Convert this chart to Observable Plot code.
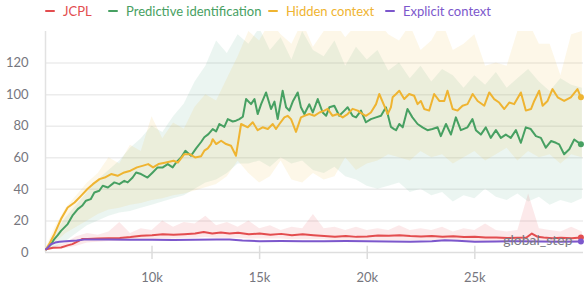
<!DOCTYPE html>
<html><head><meta charset="utf-8">
<script src="https://cdn.jsdelivr.net/npm/d3@7"></script>
<script src="https://cdn.jsdelivr.net/npm/@observablehq/plot@0.6"></script>
<style>
body{margin:0;background:#fff;}
#wrap{position:relative;width:587px;height:286px;font-family:Lato,"Open Sans",sans-serif;}
.leg{position:absolute;top:3px;height:16px;font-size:13px;display:flex;align-items:center;white-space:nowrap;}
.leg .d{display:inline-block;width:10px;height:2.5px;margin-right:8px;border-radius:1px;}
#chart{position:absolute;left:0;top:0;}
</style></head><body>
<div id="wrap"><div id="chart"></div></div>
<script>
// ---- series names / colours ----
const seriesNames = ["JCPL", "Predictive identification", "Hidden context", "Explicit context"];
const seriesColors = ["#e34d4f", "#47a062", "#efb431", "#7c57cc"];
const legendLeft = [45, 108, 268, 385];

// ---- axis ticks ----
const yTicks = [0, 20, 40, 60, 80, 100, 120];
const xTicks = [10, 15, 20, 25]; // thousands of steps

// ---- Predictive identification (green) ----
const greenSteps = [5.08,5.3,5.46,5.62,5.77,6.08,6.3,6.55,6.75,6.93,7.15,7.32,7.55,7.71,7.95,8.25,8.48,8.71,8.87,9.1,9.26,9.49,9.79,10.03,10.26,10.5,10.73,10.96,11.12,11.35,11.55,11.81,12.05,12.28,12.43,12.62,12.82,12.98,13.13,13.36,13.52,13.75,13.9,14.06,14.22,14.37,14.6,14.76,14.91,15.07,15.3,15.53,15.69,15.84,16.07,16.23,16.38,16.54,16.77,16.92,17.08,17.31,17.47,17.7,17.93,18.09,18.24,18.47,18.7,18.94,19.09,19.32,19.48,19.71,19.94,20.17,20.41,20.64,20.87,21.1,21.25,21.34,21.49,21.65,21.87,22.1,22.34,22.57,22.8,23.03,23.27,23.42,23.66,23.89,24.12,24.35,24.66,24.89,25.05,25.28,25.51,25.74,25.98,26.21,26.44,26.67,26.91,27.14,27.37,27.6,27.84,28.07,28.3,28.54,28.77,28.92,29.15,29.39,29.62,29.93];
const greenValues = [2,5,8.5,11,13.7,18,23.3,27.5,29.6,32.8,33.8,38,39.1,42.3,41.2,44.4,43.3,45.4,44.4,47.5,50.7,49.7,47.5,50.7,53.9,53.9,56,53.9,57,60.2,64.4,61.3,66,70,73,75,78.2,76.7,81.4,79.6,84.5,83,83.5,84.5,86,97.2,94,97.2,87.7,94,101.4,90.9,95.6,84.5,102.5,92,89.9,95.6,101.4,92,87.7,93.9,88.7,97.2,88.7,86.6,92,93,86.6,89.9,92,86.6,85.6,89.9,82.5,84.5,85.6,86.6,92,79.6,78.2,77.5,81.4,79.3,90.9,85.6,81.4,79.3,77.5,78.2,79.3,73.7,81.4,74.7,85.6,77.5,79.3,84.5,77.5,74.7,79.3,72.6,77.5,72.6,74.7,72.6,77.5,69.5,79.3,78.2,73.7,72.6,66.4,70.6,69.5,68.5,62.2,65.4,71.6,68.5];

// ---- Hidden context (yellow) ----
const yellowSteps = [5.08,5.25,5.46,5.62,5.77,6.08,6.4,6.7,7.0,7.25,7.56,7.8,8.1,8.4,8.71,9.0,9.3,9.55,9.82,10.05,10.3,10.65,11.0,11.2,11.5,11.75,12.0,12.28,12.43,12.59,12.74,12.82,12.98,13.21,13.44,13.67,13.9,14.14,14.45,14.68,14.91,15.14,15.38,15.61,15.76,15.92,16.15,16.3,16.46,16.69,16.92,17.08,17.31,17.54,17.78,18.01,18.16,18.39,18.63,18.86,19.09,19.32,19.56,19.79,19.94,20.17,20.41,20.56,20.79,20.95,21.1,21.18,21.34,21.49,21.72,21.95,22.18,22.34,22.49,22.65,22.88,23.11,23.35,23.58,23.73,23.97,24.2,24.43,24.66,24.9,25.13,25.44,25.67,25.9,26.13,26.37,26.6,26.83,27.14,27.37,27.61,27.76,27.99,28.15,28.38,28.61,28.85,29.15,29.46,29.77,29.93];
const yellowValues = [2,6,11.6,16.5,21.2,28.5,31.7,35.9,40.2,43.3,46.5,47.5,49.7,48.6,50.7,51.8,53.9,54.9,56,53.9,56,57,58.1,57,62.3,62.3,60.2,61,64.5,66,68.7,71.8,68.7,70.8,68.7,67.6,61.3,81.4,79.3,82.5,77.5,79.3,78.2,81.4,78.2,81.4,85.6,86.6,84.5,76.4,85.6,86.6,87.7,86.6,88.7,89.9,91,86.6,87.7,85.6,87.7,91,89.9,87.7,86.6,88.7,94,100.4,93,87.7,92,98.3,100.4,102.5,97.2,100.4,99.3,94,96,90.9,89.9,100.4,96,96,102.5,90.9,89.9,93,94,100.4,96,93,101.4,97.2,95,90.9,95,94,101.4,89.9,90.9,96,102.5,93,96,103.5,98.3,96,98.3,103.5,98.3];

// ---- JCPL (red) ----
const redSteps = [5.08,5.4,5.77,6.08,6.3,6.55,6.75,7.0,7.5,8.0,8.5,9.0,9.5,10.0,10.5,11.0,11.5,12.0,12.4,12.8,13.2,13.6,14.0,14.5,15.0,15.5,16.0,16.5,17.0,17.5,18.0,18.5,19.0,19.5,20.0,20.5,21.0,21.5,22.0,22.5,23.0,23.5,24.0,24.5,25.0,25.5,26.0,26.5,27.0,27.4,27.65,27.9,28.2,28.6,29.0,29.5,29.93];
const redValues = [2,3,3.2,4.5,5.3,7,8.5,8.5,8.8,9,9.2,9.8,10.6,11,11.6,11.2,11.6,12,13,12,12.7,12,12.5,11.6,12,11.3,11.8,11,11.5,11,10.5,10,10.5,9.9,10.2,10.8,10.6,11,10.5,10.2,10.5,10,10.3,9.8,10,9.5,9.5,9.2,9.4,9.5,12,10,9.5,9,9.3,9,9.5];

// ---- Explicit context (purple) ----
const purpleSteps = [5.08,5.3,5.5,5.7,6.0,6.5,6.85,7.5,8.0,9.0,10.0,11.0,12.0,13.0,13.6,14.2,15.0,16.0,17.0,18.0,19.0,20.0,21.0,22.0,23.0,23.6,24.2,25.0,26.0,27.0,28.0,29.0,29.93];
const purpleValues = [2,5.2,6.3,6.8,7.1,7.6,8.2,8.3,8.2,8.1,8,7.9,8,8.2,8.3,7.6,7.2,7.3,7.2,7.1,7.3,7.2,7.0,6.8,7.1,7.7,7.5,6.8,7.0,7.2,7.0,6.8,7.0];

// ---- min/max bands ----
const bandSteps = [5.08,5.5,6,6.5,7,7.5,8,8.5,9,9.5,10,10.5,11,11.5,12,12.5,13,13.5,14,14.5,15,15.5,16,16.5,17,17.5,18,18.5,19,19.5,20,20.5,21,21.5,22,22.5,23,23.5,24,24.5,25,25.5,26,26.5,27,27.5,28,28.5,29,29.5,30];
const greenHi = [3,12,22,30,38,46,52,58,66,72,80,76,86,94,108,118,134,126,138,132,142,128,136,122,140,128,124,134,118,130,122,128,115,120,110,118,108,116,112,104,112,106,114,104,110,116,108,102,110,106,104];
const greenLo = [1,3,7,12,17,20,23,25,26,28,30,32,34,36,40,44,46,50,56,56,58,54,60,56,58,52,50,54,48,46,42,40,42,44,38,40,36,38,32,36,34,40,35,33,37,32,35,30,33,31,34];
const yellowHi = [3,16,28,36,44,50,60,56,68,64,86,72,82,78,92,100,96,110,124,140,134,146,138,132,146,130,140,146,136,144,140,146,138,134,144,128,134,146,128,132,138,118,120,118,140,146,132,132,112,138,140];
const yellowLo = [1,6,12,16,20,24,27,28,30,31,33,34,36,37,39,41,43,48,58,50,44,48,58,46,44,50,46,48,60,52,56,58,62,60,58,64,60,62,56,60,64,58,62,66,58,64,60,62,56,62,60];
const redHi = [2.5,4,6,10,12,11,13,19,12,15,14,20,16,19,18,23,17,19,16,20,15,17,14,16,15,24,15,16,14,16,14,15,14,17,14,15,14,16,13,15,14,18,14,13,14,37,15,14,13,16,13];
const redLo = [1.5,2,2.5,4,6,6.5,7,7,7.5,8,8,8.5,8.5,9,9,9.5,9,9,9,8.5,8.5,8.5,8.5,8,8,8,8,7.5,7.5,7.5,7.5,7.5,7.5,7.5,7.5,7.5,7.5,7,7,7,7,7,7,7,7,7,7,7,7,7,7];

// ---- build tables ----
const zip = (xs, ys) => xs.map((x, i) => ({x, y: ys[i]}));
const band = (lo, hi) => bandSteps.map((x, i) => ({x, lo: lo[i], hi: hi[i]}));
const lines = [
  {data: zip(redSteps, redValues), color: seriesColors[0]},
  {data: zip(greenSteps, greenValues), color: seriesColors[1]},
  {data: zip(yellowSteps, yellowValues), color: seriesColors[2]},
  {data: zip(purpleSteps, purpleValues), color: seriesColors[3]}
];
const drawOrder = [1, 2, 0, 3];

const chart = Plot.plot({
  width: 587, height: 286,
  marginLeft: 45, marginRight: 4, marginTop: 31, marginBottom: 34,
  x: {domain: [5.05, 30.05]},
  y: {domain: [0, 140]},
  style: {fontFamily: "Lato, 'Open Sans', sans-serif", fontSize: "13px", color: "#76767e", background: "transparent"},
  marks: [
    Plot.ruleY(yTicks.slice(1), {stroke: "#ececec", strokeWidth: 1.5}),
    Plot.ruleY([0], {stroke: "#dedede", strokeWidth: 1.5}),
    Plot.ruleX([5.05], {y1: 0, y2: 140, stroke: "#e2e2e2", strokeWidth: 1.5}),
    Plot.ruleX(xTicks, {y1: -4.5, y2: 4, stroke: "#dcdcdc", strokeWidth: 1.5}),
    Plot.axisY(yTicks, {tickSize: 0, tickPadding: 17, label: null}),
    Plot.axisX(xTicks, {tickSize: 0, tickPadding: 20, label: null, tickFormat: d => d + "k"}),
    Plot.areaY(band(greenLo, greenHi), {x: "x", y1: "lo", y2: "hi", fill: "#5aaa8c", fillOpacity: 0.12, clip: true}),
    Plot.areaY(band(yellowLo, yellowHi), {x: "x", y1: "lo", y2: "hi", fill: seriesColors[2], fillOpacity: 0.11, clip: true}),
    Plot.areaY(band(redLo, redHi), {x: "x", y1: "lo", y2: "hi", fill: seriesColors[0], fillOpacity: 0.12, clip: true}),
    ...drawOrder.map(i => Plot.line(lines[i].data, {x: "x", y: "y", stroke: lines[i].color, strokeWidth: 2, clip: true})),
    ...drawOrder.map(i => Plot.dot([lines[i].data[lines[i].data.length - 1]], {x: "x", y: "y", r: 3, fill: lines[i].color})),
    Plot.text(["global_step"], {frameAnchor: "bottom-right", dx: -11, dy: -12, textAnchor: "end", lineAnchor: "middle", fontSize: 14, fill: "#7a7a82"})
  ]
});
document.getElementById("chart").appendChild(chart);

const wrap = document.getElementById("wrap");
seriesNames.forEach((name, i) => {
  const el = document.createElement("div");
  el.className = "leg";
  el.style.left = legendLeft[i] + "px";
  el.style.color = seriesColors[i];
  el.innerHTML = `<span class="d" style="background:${seriesColors[i]}"></span><span>${name}</span>`;
  wrap.appendChild(el);
});
</script>
</body></html>
